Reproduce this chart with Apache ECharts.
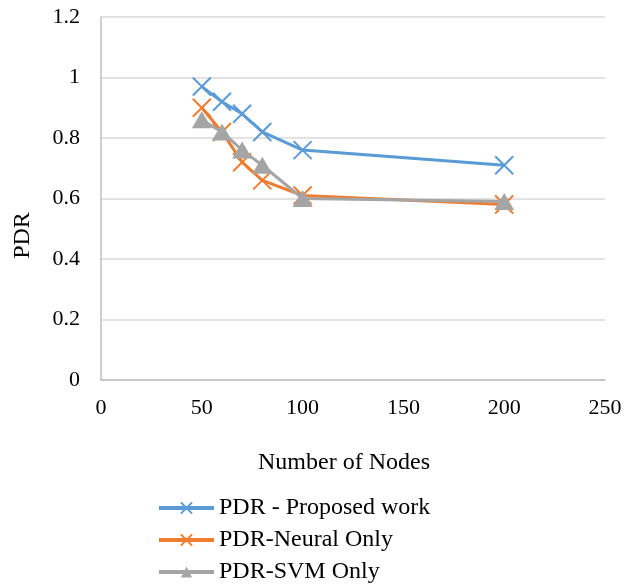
<!DOCTYPE html>
<html>
<head>
<meta charset="utf-8">
<script src="https://cdn.jsdelivr.net/npm/echarts@6/dist/echarts.min.js"></script>
<style>html,body{margin:0;padding:0;background:#fff}#c{width:637px;height:587px}</style>
</head>
<body>
<div id="c"></div>
<script>
const nodes = [50, 60, 70, 80, 100, 200];
const proposed = [0.97, 0.92, 0.88, 0.82, 0.76, 0.71];
const neural = [0.90, 0.82, 0.72, 0.66, 0.61, 0.58];
const svm = [0.86, 0.82, 0.76, 0.71, 0.60, 0.59];
const seriesNames = ['PDR - Proposed work', 'PDR-Neural Only', 'PDR-SVM Only'];

const FONT = '"Liberation Serif", "Times New Roman", serif';
const X_PATH = 'path://M0,0L10,10M10,0L0,10';
function pairs(vals){ return nodes.map((n,i)=>[n, vals[i]]); }

const legendTops = [496, 528, 560];
const legends = seriesNames.map((nm, i) => ({
  orient: 'vertical', left: 157, top: legendTops[i], padding: 0,
  itemWidth: 55, itemHeight: 14,
  lineStyle: {width: 4},
  textStyle: {fontFamily: FONT, fontSize: 24, lineHeight: 24, color: '#000'},
  data: [nm]
}));

const chart = echarts.init(document.getElementById('c'));
chart.setOption({
  animation: false,
  textStyle: {fontFamily: FONT},
  grid: {left: 101, right: 32, top: 17, bottom: 207, containLabel: false},
  legend: legends,
  xAxis: {
    type: 'value', min: 0, max: 250, interval: 50,
    name: 'Number of Nodes', nameLocation: 'middle', nameGap: 71,
    nameTextStyle: {fontFamily: FONT, fontSize: 24, color: '#000', padding: [0, 18, 0, 0]},
    axisLine: {show: true, lineStyle: {color: '#BFBFBF', width: 1.5}},
    axisTick: {show: false},
    splitLine: {show: false},
    axisLabel: {fontFamily: FONT, fontSize: 22, color: '#000', margin: 17}
  },
  yAxis: {
    type: 'value', min: 0, max: 1.2, interval: 0.2,
    name: 'PDR', nameLocation: 'middle', nameGap: 66, nameRotate: 90,
    nameTextStyle: {fontFamily: FONT, fontSize: 24, color: '#000', padding: [0, 74, 0, 0]},
    axisLine: {show: true, lineStyle: {color: '#BFBFBF', width: 1.5}},
    axisTick: {show: false},
    splitLine: {show: true, lineStyle: {color: '#D9D9D9', width: 1.5}},
    axisLabel: {fontFamily: FONT, fontSize: 22, color: '#000', margin: 21,
      formatter: v => String(Math.round(v*10)/10)}
  },
  series: [
    {
      name: seriesNames[0], type: 'line', data: pairs(proposed),
      symbol: X_PATH, symbolSize: 18,
      lineStyle: {color: '#5B9BD5', width: 3},
      itemStyle: {color: '#5B9BD5', borderColor: '#5B9BD5', borderWidth: 2},
      z: 3
    },
    {
      name: seriesNames[1], type: 'line', data: pairs(neural),
      symbol: X_PATH, symbolSize: 18,
      lineStyle: {color: '#ED7D31', width: 3},
      itemStyle: {color: '#ED7D31', borderColor: '#ED7D31', borderWidth: 2},
      z: 2
    },
    {
      name: seriesNames[2], type: 'line', data: pairs(svm),
      symbol: 'triangle', symbolSize: [20, 17],
      lineStyle: {color: '#A5A5A5', width: 3},
      itemStyle: {color: '#A5A5A5', borderWidth: 0},
      z: 4
    }
  ]
});
</script>
</body>
</html>
